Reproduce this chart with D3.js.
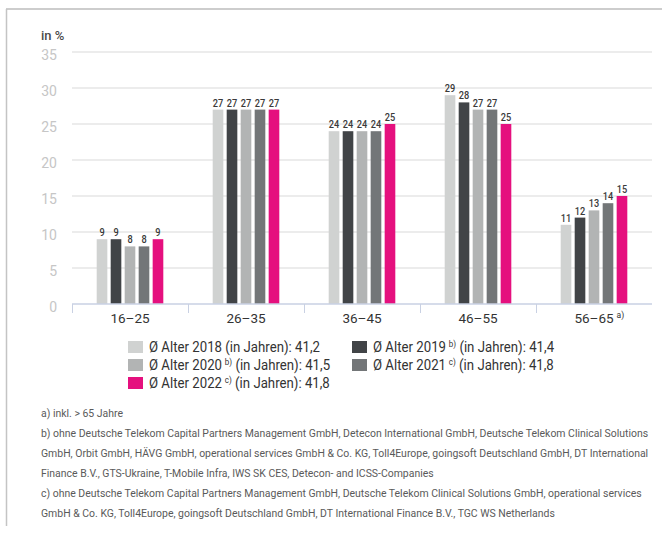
<!DOCTYPE html>
<html>
<head>
<meta charset="utf-8">
<script src="https://cdn.jsdelivr.net/npm/d3@7"></script>
<style>
  html, body { margin: 0; padding: 0; background: #fff; }
  svg { display: block; font-family: Roboto, "Noto Sans", sans-serif; }
</style>
</head>
<body>
<svg id="chart" width="662" height="535"></svg>
<script>
// Age groups and shares of employees (in %) per year
const ageGroups = ["16–25", "26–35", "36–45", "46–55", "56–65"];
const groupNotes = ["", "", "", "", "a)"];
const years = ["2018", "2019", "2020", "2021", "2022"];
const values2018 = [9, 27, 24, 29, 11];
const values2019 = [9, 27, 24, 28, 12];
const values2020 = [8, 27, 24, 27, 13];
const values2021 = [8, 27, 24, 27, 14];
const values2022 = [9, 27, 25, 25, 15];
const avgAge = ["41,2", "41,4", "41,5", "41,8", "41,8"];
const yearNotes = ["", "b)", "b)", "c)", "c)"];
const yTicks = [0, 5, 10, 15, 20, 25, 30, 35];
const colors = ["#d0d2d1", "#414447", "#b2b4b4", "#737678", "#e5107e"];
const footnotes = [
  "a) inkl. > 65 Jahre",
  "b) ohne Deutsche Telekom Capital Partners Management GmbH, Detecon International GmbH, Deutsche Telekom Clinical Solutions",
  "GmbH, Orbit GmbH, HÄVG GmbH, operational services GmbH & Co. KG, Toll4Europe, goingsoft Deutschland GmbH, DT International",
  "Finance B.V., GTS-Ukraine, T-Mobile Infra, IWS SK CES, Detecon- and ICSS-Companies",
  "c) ohne Deutsche Telekom Capital Partners Management GmbH, Deutsche Telekom Clinical Solutions GmbH, operational services",
  "GmbH & Co. KG, Toll4Europe, goingsoft Deutschland GmbH, DT International Finance B.V., TGC WS Netherlands"
];

const series = [values2018, values2019, values2020, values2021, values2022];

const svg = d3.select("#chart");

// Frame around the chart
svg.append("line").attr("x1", 6).attr("x2", 662).attr("y1", 9).attr("y2", 9)
  .attr("stroke", "#bdbdbd").attr("stroke-width", 1.5);
svg.append("line").attr("x1", 6.5).attr("x2", 6.5).attr("y1", 9).attr("y2", 526)
  .attr("stroke", "#c4c4c4").attr("stroke-width", 1.5);

const plot = { left: 72, right: 652, top: 52, bottom: 304 };

const x = d3.scaleBand().domain(ageGroups).range([plot.left, plot.right]).padding(0);
const y = d3.scaleLinear().domain([0, 35]).range([plot.bottom, plot.top]);
const xi = d3.scaleBand().domain(years).range([-33.3, 33.3]).paddingInner(0.24);

// Gridlines
svg.append("g").selectAll("line").data(yTicks.filter(d => d > 0)).join("line")
  .attr("x1", plot.left).attr("x2", plot.right)
  .attr("y1", d => y(d)).attr("y2", d => y(d))
  .attr("stroke", "#e6e6e6").attr("stroke-width", 1.5);

// Y tick labels
svg.append("g").selectAll("text").data(yTicks).join("text")
  .attr("x", 57).attr("y", d => y(d) + 7.5)
  .attr("text-anchor", "end")
  .attr("font-size", 14).attr("fill", "#c6c6c6")
  .text(d => d);

svg.append("text").attr("x", 41).attr("y", 40)
  .attr("font-size", 13).attr("font-weight", 500).attr("fill", "#4a4a4a")
  .text("in %");

// Bars
const groups = svg.append("g").selectAll("g").data(ageGroups).join("g")
  .attr("transform", d => `translate(${x(d) + x.bandwidth() / 2},0)`);

groups.each(function(cat, ci) {
  const g = d3.select(this);
  const rows = years.map((yr, si) => ({ yr, v: series[si][ci], c: colors[si] }));
  g.selectAll("rect").data(rows).join("rect")
    .attr("x", d => xi(d.yr)).attr("width", xi.bandwidth())
    .attr("y", d => y(d.v)).attr("height", d => y(0) - y(d.v))
    .attr("fill", d => d.c);
  // value labels, slightly condensed so neighbours stay apart
  g.selectAll("g.val").data(rows).join("g").attr("class", "val")
    .attr("transform", d => `translate(${xi(d.yr) + xi.bandwidth() / 2},${y(d.v) - 3}) scale(0.8,1)`)
    .append("text")
    .attr("text-anchor", "middle")
    .attr("font-size", 11.5).attr("font-weight", 500).attr("fill", "#3a3a3a")
    .text(d => d.v);
});

// X axis
const xAxisG = svg.append("g");
xAxisG.append("line").attr("x1", plot.left).attr("x2", plot.right)
  .attr("y1", plot.bottom).attr("y2", plot.bottom)
  .attr("stroke", "#c9d1e3").attr("stroke-width", 1.5);
xAxisG.selectAll("line.tick").data(ageGroups).join("line").attr("class", "tick")
  .attr("x1", d => x(d) + 0.5).attr("x2", d => x(d) + 0.5)
  .attr("y1", plot.bottom).attr("y2", plot.bottom + 9)
  .attr("stroke", "#c9d1e3").attr("stroke-width", 1);
const xl = xAxisG.selectAll("text").data(ageGroups).join("text")
  .attr("x", d => x(d) + x.bandwidth() / 2)
  .attr("y", 323)
  .attr("text-anchor", "middle")
  .attr("font-size", 13.5).attr("fill", "#333");
xl.append("tspan").text(d => d);
xl.filter((d, i) => groupNotes[i]).append("tspan")
  .attr("dx", 3).attr("dy", -5).attr("font-size", 8.5)
  .text((d) => groupNotes[ageGroups.indexOf(d)]);
// keep the main label centred when a note follows
xl.filter((d, i) => groupNotes[i]).attr("text-anchor", "start")
  .each(function(d) {
    const w = this.firstChild.getComputedTextLength();
    d3.select(this).attr("x", x(d) + x.bandwidth() / 2 - w / 2);
  });

// Legend
const legendCols = [128, 352];
const legendRows = [347, 365, 383];
const legend = svg.append("g");
const items = years.map((yr, i) => ({ yr, i, col: i % 2, row: Math.floor(i / 2) }));
const li = legend.selectAll("g").data(items).join("g")
  .attr("transform", d => `translate(${legendCols[d.col]},${legendRows[d.row]})`);
li.append("rect").attr("x", 0).attr("y", -6).attr("width", 15).attr("height", 12)
  .attr("fill", d => colors[d.i]);
const lt = li.append("g").attr("class", "lt").attr("transform", "translate(21,5)")
  .append("text").attr("font-size", 14).attr("fill", "#333");
lt.append("tspan").text(d => `Ø Alter ${d.yr}`);
lt.filter(d => yearNotes[d.i]).append("tspan")
  .attr("dx", 3).attr("dy", -5).attr("font-size", 8.5).text(d => yearNotes[d.i]);
lt.append("tspan").attr("dy", d => yearNotes[d.i] ? 5 : 0)
  .text(d => ` (in Jahren): ${avgAge[d.i]}`);
// condense legend text to the set width of the first entry
const legendRef = lt.nodes()[0].getComputedTextLength();
const kLegend = 171 / legendRef;
li.select("g.lt").attr("transform", `translate(21,5) scale(${kLegend},1)`);

// Footnotes
const fnY = [413, 433, 453, 473, 493, 513];
const fn = svg.append("g").selectAll("g").data(footnotes).join("g");
const ft = fn.append("text").attr("font-size", 10.5).attr("fill", "#5a5a5a").text(d => d);
const kFn = 608 / ft.nodes()[1].getComputedTextLength();
fn.attr("transform", (d, i) => `translate(41,${fnY[i] + 3.5}) scale(${kFn},1)`);
</script>
</body>
</html>
